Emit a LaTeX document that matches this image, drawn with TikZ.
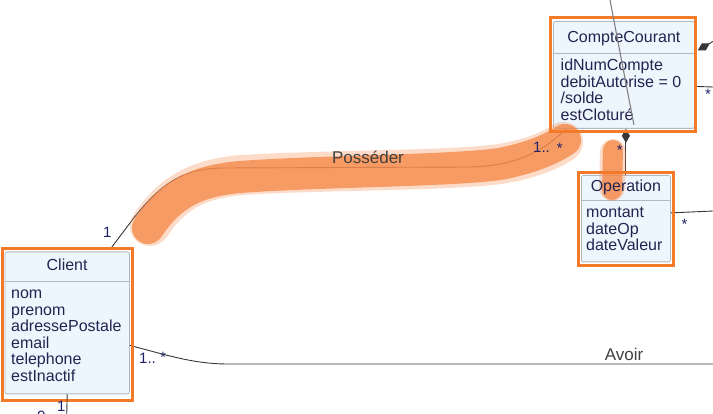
\documentclass[tikz,border=0pt]{standalone}
\usepackage{fontspec}
\setmainfont{Liberation Sans}
\usetikzlibrary{calc,positioning,arrows.meta}
\definecolor{boxfill}{RGB}{238,246,253}
\definecolor{boxline}{RGB}{175,185,195}
\definecolor{umltext}{RGB}{35,35,80}
\definecolor{multtext}{RGB}{30,35,105}
\definecolor{hlorange}{RGB}{243,122,40}
\definecolor{brushorange}{RGB}{246,138,75}
\definecolor{assocline}{RGB}{55,55,55}
\newcommand{\umlfont}{\fontsize{16}{17}\selectfont}
\newcommand{\labfont}{\fontsize{17}{19}\selectfont}
\tikzset{
  classbox/.style  = {draw=boxline, fill=boxfill, rounded corners=2pt, line width=0.8pt,
                      anchor=north west, inner sep=0pt},
  classname/.style = {font=\umlfont, text=umltext, inner sep=0pt, anchor=base},
  attrib/.style    = {font=\umlfont, text=umltext, anchor=base west, inner sep=0pt},
  divider/.style   = {draw=boxline, line width=0.8pt},
  hilite/.style    = {draw=hlorange, line width=3pt},
  assoc/.style     = {draw=assocline, line width=0.9pt},
  comp/.style      = {assoc, {Diamond[length=14pt,width=8pt]}-},
  thinline/.style  = {draw=black!50, line width=1.1pt},
  mult/.style      = {font=\fontsize{15}{17}\selectfont, text=multtext, anchor=base west, inner sep=0pt},
  asslab/.style    = {font=\labfont, text=black!75, inner sep=0pt, anchor=base},
  brush/.style     = {draw=brushorange, opacity=0.8, line cap=round, line join=round},
  softbrush/.style = {brush, opacity=0.3},
}
\begin{document}
\begin{tikzpicture}[x=1pt, y=-1pt]
\useasboundingbox (0,0) rectangle (713,414);
\clip (0,0) rectangle (713,414);
% classes
\node[classbox, minimum width=141pt, minimum height=107pt] (compte) at (553,21) {};
\node[classbox, minimum width=89pt, minimum height=86.5pt] (oper) at (581,175) {};
\node[classbox, minimum width=124.5pt, minimum height=142pt] (client) at (4.5,251.5) {};
\draw[divider] ($(compte.north west)+(0,32)$) -- ($(compte.north east)+(0,32)$);
\draw[divider] ($(oper.north west)+(0,25)$) -- ($(oper.north east)+(0,25)$);
\draw[divider] ($(client.north west)+(0,29.5)$) -- ($(client.north east)+(0,29.5)$);

% free ends
\coordinate (ccout1) at (713,41.4);
\coordinate (ccout2) at (713,87);
\coordinate (opout) at (713,211);
\coordinate (avoirout) at (713,364);
\coordinate (clout) at (66.75,414);
\coordinate (ccin) at (610,0);

% associations
\draw[assoc] ($(client.north west)+(105.5,-2)$) -- (133,219)
  .. controls (163,181) and (185,168) .. (225,168) -- (470,167)
  .. controls (515,166) and (543,152) .. ($(compte.south west)+(13,0)$);
\draw[assoc] ($(client.east)+(0,22.5)$) .. controls (170,356) and (195,364) .. (228,364) -- (avoirout);
\draw[comp] (compte.south -| oper.north) -- (oper.north);
\draw[comp] ($(compte.east)+(3,-24.5)$) -- (ccout1);
\draw[assoc] ($(compte.east)+(0,11.5)$) -- (ccout2);
\draw[assoc] ($(oper.east)+(0,-5.75)$) -- (opout);

% brush marks
\draw[softbrush, line width=40pt] (150,226) .. controls (172,193) and (197,179) .. (242,175)
  .. controls (320,170) and (450,171) .. (500,164) .. controls (530,159) and (550,151) .. (563,142);
\draw[brush, line width=32pt] (148,228) .. controls (170,195) and (195,181) .. (240,177)
  .. controls (320,171) and (450,171) .. (500,164) .. controls (530,158) and (550,150) .. (565,140);
\draw[softbrush, line width=26pt] (613,152) -- (612,188);
\draw[brush, line width=20pt] (613,150) -- (612,190);

% highlight frames
\draw[hilite] ($(client.north west)+(-2,-2.5)$) rectangle ($(client.south east)+(2.5,6)$);
\draw[hilite] ($(compte.north west)+(-2.3,-3)$) rectangle ($(compte.south east)+(1,2.5)$);
\draw[hilite] ($(oper.north west)+(-2.5,-2)$) rectangle ($(oper.south east)+(2.3,3)$);
\draw[assoc] (client.south) -- (clout);

% class texts
\node[classname] at ($(compte.north)+(0,22)$) {CompteCourant};
\foreach \a [count=\i] in {idNumCompte, debitAutorise = 0, /solde, estCloturé}
  \node[attrib] at ($(compte.north west)+(7.5,{33.5+16.4*\i})$) {\a};
\node[classname] at ($(oper.north)+(0,17)$) {Operation};
\foreach \a [count=\i] in {montant, dateOp, dateValeur}
  \node[attrib] at ($(oper.north west)+(5,{26.5+16.5*\i})$) {\a};
\node[classname] at ($(client.north)+(0,19.5)$) {Client};
\foreach \a [count=\i] in {nom, prenom, adressePostale, email, telephone, estInactif}
  \node[attrib] at ($(client.north west)+(6.5,{30.5+16.6*\i})$) {\a};

% labels
\node[asslab] at (368,163.5) {Posséder};
\node[asslab] at (624,360) {Avoir};
\node[mult] at (103,238) {1};
\node[mult] at (533,153) {1..};
\node[mult] at (556.6,153.5) {*};
\node[mult] at (139,364) {1..};
\node[mult] at (160,362.6) {*};
\node[mult] at (616.6,156) {*};
\node[mult] at (705,99.6) {*};
\node[mult] at (681.5,230) {*};
\node[mult] at (57,411) {1};
\node[mult] at (37,421) {0..};

\draw[thinline] (ccin) -- ($(compte.south)+(10,-4)$);
\end{tikzpicture}
\end{document}
